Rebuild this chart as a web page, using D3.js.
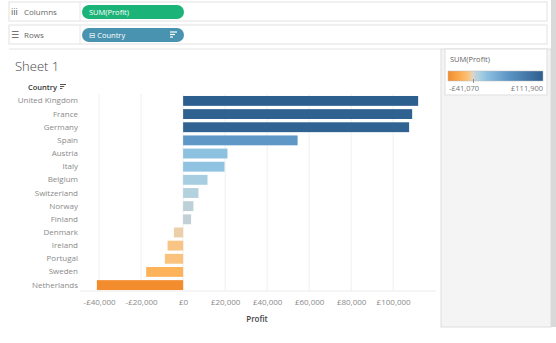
<!DOCTYPE html>
<html>
<head>
<meta charset="utf-8">
<script src="https://cdn.jsdelivr.net/npm/d3@7"></script>
<style>
  body { margin: 0; background: #fff; }
  svg { display: block; font-family: "Open Sans", "DejaVu Sans", sans-serif; }
</style>
</head>
<body>
<svg id="chart" width="556" height="343"></svg>
<script>
// Data
const countries = ['United Kingdom', 'France', 'Germany', 'Spain', 'Austria', 'Italy', 'Belgium',
    'Switzerland', 'Norway', 'Finland', 'Denmark', 'Ireland', 'Portugal', 'Sweden', 'Netherlands'];
const profit = [111900, 109050, 107600, 54500, 21100, 19700, 11600,
    7300, 4900, 3800, -4400, -7400, -8700, -17600, -41070];
const xTicks = [-40000, -20000, 0, 20000, 40000, 60000, 80000, 100000];
const legendMin = -41070;
const legendMax = 111900;

const svg = d3.select('#chart');

// Top shelves (Columns / Rows)
function shelf(y, h, label, icon) {
    svg.append('rect').attr('x', 9).attr('y', y).attr('width', 538).attr('height', h)
        .attr('fill', '#fff').attr('stroke', '#e2e2e2');
    svg.append('line').attr('x1', 80).attr('x2', 80).attr('y1', y).attr('y2', y + h)
        .attr('stroke', '#e6e6e6');
    svg.append('text').attr('x', 11).attr('y', y + h / 2 + 3).attr('font-size', 9)
        .attr('fill', '#555').text(icon);
    svg.append('text').attr('x', 24).attr('y', y + h / 2 + 3).attr('font-size', 8)
        .attr('fill', '#666').text(label);
}
shelf(2, 19, 'Columns', 'iii');
shelf(25, 19, 'Rows', '☰');

svg.append('rect').attr('x', 82).attr('y', 5).attr('width', 102).attr('height', 14)
    .attr('rx', 7).attr('fill', '#1bb378');
svg.append('text').attr('x', 89).attr('y', 15).attr('font-size', 7.5).attr('fill', '#fff')
    .text('SUM(Profit)');
svg.append('rect').attr('x', 82).attr('y', 28).attr('width', 102).attr('height', 14)
    .attr('rx', 7).attr('fill', '#4a93b0');
svg.append('text').attr('x', 89).attr('y', 38).attr('font-size', 7.5).attr('fill', '#fff')
    .text('⊟ Country');
[0, 1, 2].forEach(i => {
    svg.append('line').attr('x1', 170).attr('x2', 177 - i * 2)
        .attr('y1', 32 + i * 2.5).attr('y2', 32 + i * 2.5)
        .attr('stroke', '#fff').attr('stroke-width', 1.2);
});

// Sheet area and right panel
svg.append('line').attr('x1', 9).attr('x2', 441).attr('y1', 49).attr('y2', 49).attr('stroke', '#e4e4e4');
svg.append('rect').attr('x', 441).attr('y', 49).attr('width', 110).attr('height', 278)
    .attr('fill', '#f4f4f4').attr('stroke', '#dedede');
svg.append('rect').attr('x', 551).attr('y', 0).attr('width', 5).attr('height', 327).attr('fill', '#d9d9d9');

svg.append('text').attr('x', 15).attr('y', 71).attr('font-size', 13).attr('fill', '#444')
    .attr('font-weight', 300).text('Sheet 1');

// Scales
const x = d3.scaleLinear().domain([-49100, 120400]).range([80, 436]);
const y = d3.scaleBand().domain(countries).range([94.4, 291.6]).paddingInner(0.25).paddingOuter(0.12);

const color = d3.scaleLinear()
    .domain([-41070, -17600, -8000, -4400, 0, 4000, 8000, 20000, 54000, 111900])
    .range(['#f28c2d', '#fdb35a', '#fac37f', '#ebcfa9', '#d8d6d0', '#bfd0d6', '#b0d2e0',
        '#8fc2e1', '#5f97c7', '#2c5e8e'])
    .clamp(true);

// Grid
svg.append('g').selectAll('line').data(xTicks).join('line')
    .attr('x1', d => x(d)).attr('x2', d => x(d))
    .attr('y1', 94).attr('y2', 291)
    .attr('stroke', '#f0f0f0');
svg.append('line').attr('x1', 80).attr('x2', 436).attr('y1', 291).attr('y2', 291).attr('stroke', '#ececec');

// Bars
svg.append('g').selectAll('rect').data(countries).join('rect')
    .attr('x', (d, i) => x(Math.min(0, profit[i])))
    .attr('y', d => y(d))
    .attr('width', (d, i) => Math.abs(x(profit[i]) - x(0)))
    .attr('height', y.bandwidth())
    .attr('fill', (d, i) => color(profit[i]));

// Country labels
const yAxis = svg.append('g').attr('transform', 'translate(78,0)')
    .call(d3.axisLeft(y).tickSize(0).tickPadding(0));
yAxis.select('.domain').remove();
yAxis.selectAll('text').attr('font-size', 8).attr('fill', '#8a8a8a')
    .attr('font-family', '"Open Sans", sans-serif');

svg.append('text').attr('x', 28).attr('y', 90).attr('font-size', 7.5).attr('font-weight', 600)
    .attr('fill', '#333').text('Country');
[0, 1, 2].forEach(i => {
    svg.append('line').attr('x1', 60).attr('x2', 66 - i * 1.8)
        .attr('y1', 84.5 + i * 2).attr('y2', 84.5 + i * 2)
        .attr('stroke', '#444').attr('stroke-width', 0.9);
});

// X axis
const fmt = d => (d < 0 ? '-£' : '£') + d3.format(',')(Math.abs(d));
const xAxis = svg.append('g').attr('transform', 'translate(0,291)')
    .call(d3.axisBottom(x).tickValues(xTicks).tickFormat(fmt).tickSize(0).tickPadding(8));
xAxis.select('.domain').remove();
xAxis.selectAll('text').attr('font-size', 8).attr('fill', '#8a8a8a')
    .attr('font-family', '"Open Sans", sans-serif');

svg.append('text').attr('x', 257).attr('y', 322).attr('text-anchor', 'middle')
    .attr('font-size', 8).attr('font-weight', 600).attr('fill', '#444').text('Profit');

// Legend
svg.append('rect').attr('x', 445).attr('y', 49).attr('width', 102).attr('height', 46)
    .attr('fill', '#fff').attr('stroke', '#dedede');
svg.append('text').attr('x', 450).attr('y', 62).attr('font-size', 7.5).attr('fill', '#666')
    .text('SUM(Profit)');

const lx = d3.scaleLinear().domain([legendMin, legendMax]).range([448, 543]);
const grad = svg.append('defs').append('linearGradient').attr('id', 'lg');
color.domain().forEach(v => {
    grad.append('stop')
        .attr('offset', ((lx(v) - 448) / 95 * 100) + '%')
        .attr('stop-color', color(v));
});
svg.append('rect').attr('x', 448).attr('y', 71).attr('width', 95).attr('height', 10)
    .attr('fill', 'url(#lg)').attr('stroke', '#bbb').attr('stroke-width', 0.5);
svg.append('line').attr('x1', lx(0)).attr('x2', lx(0)).attr('y1', 79).attr('y2', 83)
    .attr('stroke', '#777').attr('stroke-width', 0.8);
svg.append('text').attr('x', 449).attr('y', 91).attr('font-size', 7.5).attr('fill', '#777')
    .text(fmt(legendMin));
svg.append('text').attr('x', 543).attr('y', 91).attr('text-anchor', 'end').attr('font-size', 7.5)
    .attr('fill', '#777').text(fmt(legendMax));
</script>
</body>
</html>
